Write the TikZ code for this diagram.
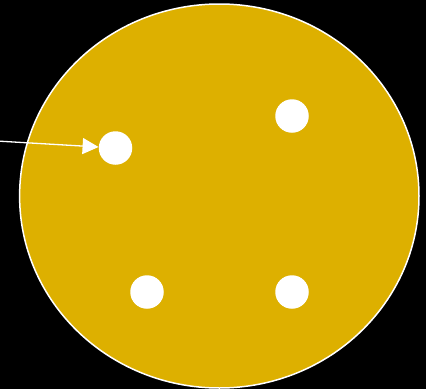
\documentclass[tikz,border=0pt]{standalone}
\usetikzlibrary{arrows.meta}
\definecolor{gold}{RGB}{221,176,0}
\begin{document}
\begin{tikzpicture}[x=1pt,y=-1pt,
  dot/.style={circle,fill=white,inner sep=0pt,minimum size=33.5pt},
  link/.style={draw=white,line width=1.3pt,-{Triangle[length=16pt,width=16pt]}}]
\fill[black] (0,0) rectangle (426,389);
\useasboundingbox (0,0) rectangle (426,389);
\draw[white,fill=gold,line width=1.5pt] (219.3,196) ellipse [x radius=199.7, y radius=192];
\node[dot] (a) at (115.5,148) {};
\node[dot] (b) at (292,116) {};
\node[dot] (c) at (147,292) {};
\node[dot] (d) at (292,292) {};
\coordinate (s) at (0,141.2);
\draw[link] (s) -- (a);
\end{tikzpicture}
\end{document}
